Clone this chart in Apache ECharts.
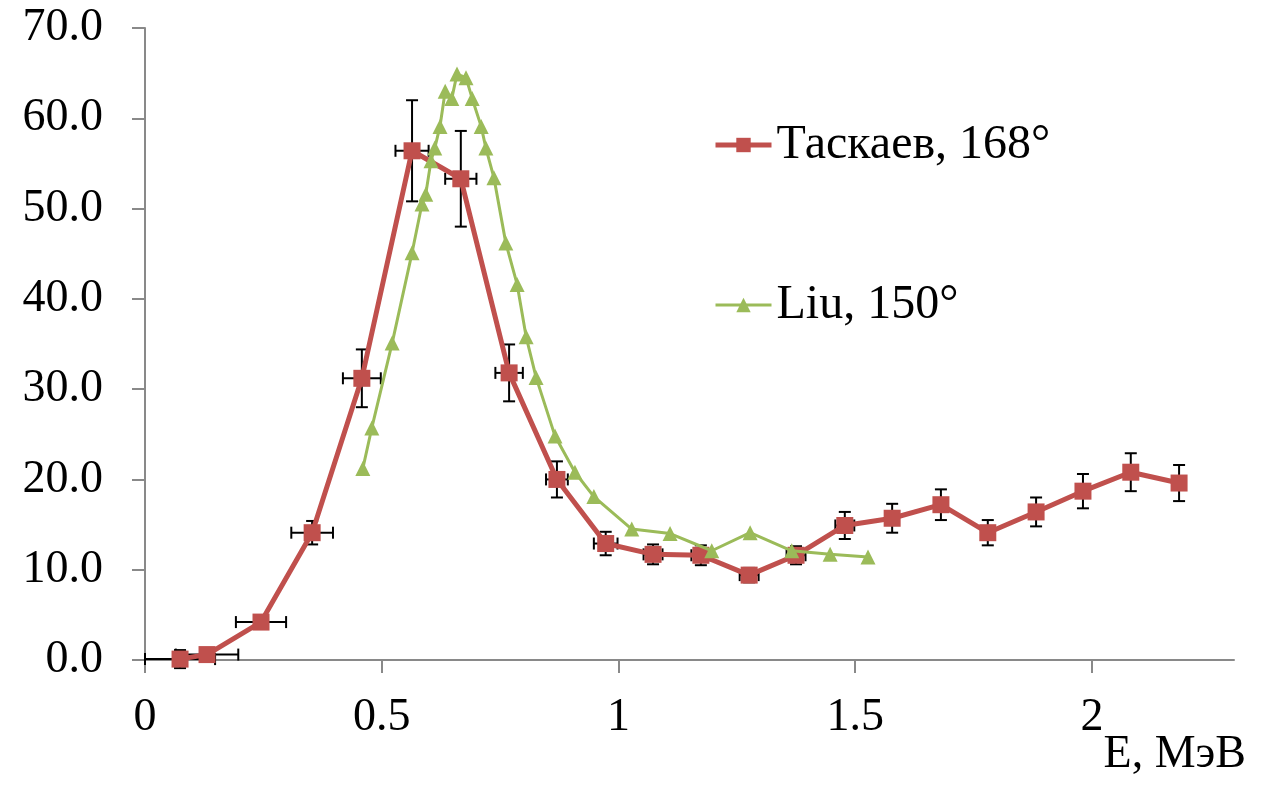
<!DOCTYPE html>
<html>
<head>
<meta charset="utf-8">
<title>Taskaev vs Liu</title>
<script src="https://cdn.jsdelivr.net/npm/echarts@6/dist/echarts.min.js"></script>
<style>
    html, body { margin: 0; padding: 0; background: #fff; }
    #chart { width: 1276px; height: 785px; }
</style>
</head>
<body>
<div id="chart"></div>
<script type="text/javascript">
// Таскаев, 168° : energy (MeV), yield, errors
var taskaevE = [0.074, 0.131, 0.245, 0.353, 0.458, 0.564, 0.667, 0.769, 0.870, 0.973, 1.073,
    1.174, 1.276, 1.375, 1.478, 1.578, 1.681, 1.780, 1.882, 1.981, 2.082, 2.184];
var taskaevY = [0.1, 0.6, 4.2, 14.1, 31.2, 56.4, 53.3, 31.8, 20.0, 12.9, 11.7,
    11.6, 9.4, 11.6, 14.9, 15.7, 17.2, 14.1, 16.4, 18.7, 20.8, 19.6];
var taskaevYErr = [1.0, 0.5, 0.5, 1.3, 3.2, 5.6, 5.3, 3.15, 2.0, 1.3, 1.1,
    1.1, 0.8, 1.0, 1.5, 1.6, 1.7, 1.4, 1.6, 1.9, 2.1, 2.0];
var taskaevEErr = [0.074, 0.066, 0.053, 0.044, 0.04, 0.035, 0.033, 0.029, 0.023, 0.025, 0.02,
    0.02, 0.02, 0.02, 0.02, 0, 0, 0, 0, 0, 0, 0];

// Liu, 150°
var liuE = [0.460, 0.479, 0.522, 0.564, 0.585, 0.593, 0.604, 0.612, 0.623, 0.634, 0.648,
    0.659, 0.678, 0.691, 0.710, 0.720, 0.737, 0.762, 0.786, 0.805, 0.826, 0.866,
    0.908, 0.948, 1.028, 1.109, 1.197, 1.278, 1.366, 1.447, 1.527];
var liuY = [21.2, 25.7, 35.1, 45.1, 50.5, 51.6, 55.3, 56.7, 59.1, 63.0, 62.2,
    64.9, 64.5, 62.2, 59.1, 56.7, 53.4, 46.2, 41.6, 35.8, 31.3, 24.8,
    20.8, 18.1, 14.5, 14.0, 12.1, 14.1, 12.1, 11.7, 11.4];

var font = '"Liberation Serif", "Times New Roman", serif';
var red = '#C0504D', green = '#9BBB59';

var taskaevData = taskaevE.map(function (e, i) { return [e, taskaevY[i]]; });
var liuData = liuE.map(function (e, i) { return [e, liuY[i]]; });
var errData = taskaevE.map(function (e, i) {
    return [e, taskaevY[i], taskaevEErr[i], taskaevYErr[i]];
});

var myChart = echarts.init(document.getElementById('chart'));

var option = {
    backgroundColor: '#fff',
    animation: false,
    textStyle: { fontFamily: font, color: '#000' },
    title: {
        text: 'E, МэВ',
        right: 25,
        top: 727,
        textStyle: { fontFamily: font, fontSize: 46, fontWeight: 'normal', color: '#000' }
    },
    legend: {
        orient: 'vertical',
        left: 708,
        top: 116,
        itemGap: 112,
        itemWidth: 56,
        itemHeight: 18,
        textStyle: { fontFamily: font, fontSize: 48, color: '#000' },
        data: [
            { name: 'Таскаев, 168°', lineStyle: { width: 5, color: red } },
            { name: 'Liu, 150°', lineStyle: { width: 3, color: green } }
        ]
    },
    grid: { left: 145, top: 28, right: 42, bottom: 125, containLabel: false },
    xAxis: {
        type: 'value',
        min: 0,
        max: 2.3,
        interval: 0.5,
        splitLine: { show: false },
        axisLine: { lineStyle: { color: '#898989', width: 2 } },
        axisTick: { show: true, inside: false, length: 13, lineStyle: { color: '#898989', width: 2 } },
        axisLabel: {
            showMaxLabel: false,
            margin: 35,
            fontSize: 46,
            fontFamily: font,
            color: '#000'
        }
    },
    yAxis: {
        type: 'value',
        min: 0,
        max: 70,
        interval: 10,
        splitLine: { show: false },
        axisLine: { show: true, lineStyle: { color: '#898989', width: 2 } },
        axisTick: { show: true, inside: false, length: 13, lineStyle: { color: '#898989', width: 2 } },
        axisLabel: {
            margin: 42,
            fontSize: 46,
            fontFamily: font,
            color: '#000',
            formatter: function (v) { return v.toFixed(1); }
        }
    },
    series: [
        {
            // error bars under the markers
            type: 'custom',
            z: 1,
            silent: true,
            data: errData,
            renderItem: function (params, api) {
                var x = api.value(0), y = api.value(1);
                var dx = api.value(2), dy = api.value(3);
                var cap = 6;
                var style = { stroke: '#000', lineWidth: 2 };
                var children = [];
                if (dy > 0) {
                    var top = api.coord([x, y + dy]);
                    var bot = api.coord([x, y - dy]);
                    children.push(
                        { type: 'line', shape: { x1: top[0], y1: top[1], x2: bot[0], y2: bot[1] }, style: style },
                        { type: 'line', shape: { x1: top[0] - cap, y1: top[1], x2: top[0] + cap, y2: top[1] }, style: style },
                        { type: 'line', shape: { x1: bot[0] - cap, y1: bot[1], x2: bot[0] + cap, y2: bot[1] }, style: style }
                    );
                }
                if (dx > 0) {
                    var l = api.coord([x - dx, y]);
                    var r = api.coord([x + dx, y]);
                    children.push(
                        { type: 'line', shape: { x1: l[0], y1: l[1], x2: r[0], y2: r[1] }, style: style },
                        { type: 'line', shape: { x1: l[0], y1: l[1] - cap, x2: l[0], y2: l[1] + cap }, style: style },
                        { type: 'line', shape: { x1: r[0], y1: r[1] - cap, x2: r[0], y2: r[1] + cap }, style: style }
                    );
                }
                return { type: 'group', children: children };
            }
        },
        {
            name: 'Таскаев, 168°',
            type: 'line',
            z: 2,
            data: taskaevData,
            symbol: 'rect',
            symbolSize: 17,
            showAllSymbol: true,
            itemStyle: { color: red },
            lineStyle: { color: red, width: 5 }
        },
        {
            name: 'Liu, 150°',
            type: 'line',
            z: 3,
            data: liuData,
            symbol: 'triangle',
            symbolSize: 15,
            showAllSymbol: true,
            itemStyle: { color: green },
            lineStyle: { color: green, width: 3 }
        }
    ]
};

myChart.setOption(option);
</script>
</body>
</html>
